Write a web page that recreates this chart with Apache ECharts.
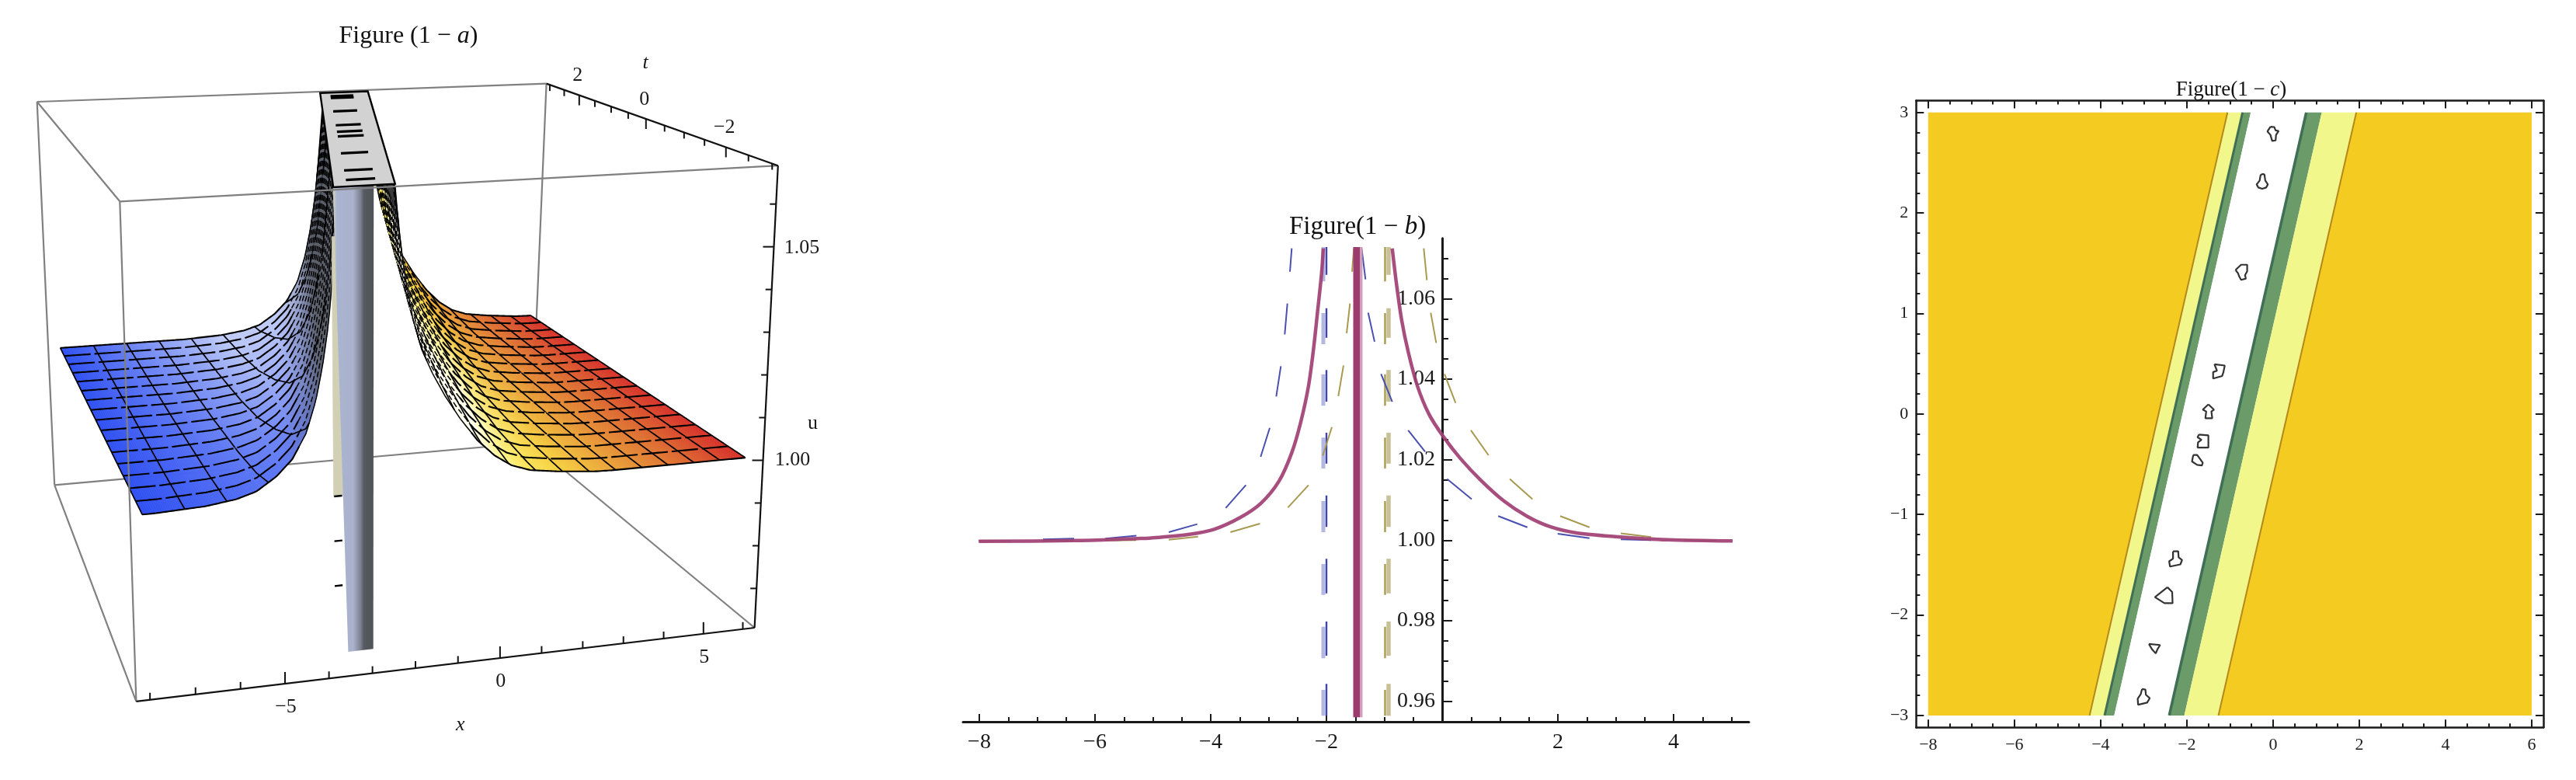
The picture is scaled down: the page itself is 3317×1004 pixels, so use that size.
<!DOCTYPE html>
<html><head><meta charset="utf-8"><style>html,body{margin:0;padding:0;background:#fff}#c{width:3317px;height:1004px}</style>
<script src="https://cdn.jsdelivr.net/npm/echarts@6/dist/echarts.min.js"></script></head>
<body><div id="c"></div>
<script>
// ---------- DATA: panel (1-b) ----------
const solidLeftX=[-8.01,-6.36,-5.28,-5.06,-4.389,-3.942,-3.494,-3.137,-2.823,-2.6,-2.443,-2.309,-2.219,-2.152,-2.085,-2.054];
const solidLeftY=[0.9997,0.9999,1.0004,1.0005,1.0014,1.0027,1.0056,1.0091,1.0146,1.0217,1.0294,1.0384,1.048,1.057,1.0661,1.0725];
const solidRightX=[-0.863,-0.788,-0.698,-0.587,-0.43,-0.228,0.017,0.309,0.667,1.07,1.472,1.875,2.322,2.993,3.9,5.02];
const solidRightY=[1.0725,1.0635,1.0545,1.0468,1.0384,1.0313,1.0258,1.0204,1.0149,1.0097,1.0059,1.0033,1.0018,1.0009,1.0001,0.9998];
const solidPoleX=-1.48;
const blueDashes=[[-2.6,1.0725,-2.631,1.0667],[-2.675,1.0588,-2.721,1.0511],[-2.788,1.0432,-2.868,1.0357],[-2.98,1.0279,-3.137,1.0207],[-3.392,1.0137,-3.741,1.008],[-4.232,1.004,-4.725,1.002],[-5.284,1.0011,-5.821,1.0004],[-6.362,1.0004,-6.899,1.0002],
 [-1.392,1.0725,-1.325,1.0648],[-1.279,1.0565,-1.168,1.0493],[-1.056,1.0413,-0.863,1.0344],[-0.587,1.0273,-0.295,1.022],[0.085,1.0152,0.51,1.0102],[0.97,1.006,1.472,1.0032],[1.996,1.0016,2.546,1.0005],[3.087,1.0002,3.611,1]];
const tanDashes=[[-1.526,1.0725,-1.557,1.0667],[-1.593,1.0588,-1.651,1.0514],[-1.705,1.0434,-1.795,1.0358],[-1.906,1.0281,-2.063,1.021],[-2.309,1.0137,-2.667,1.0081],[-3.15,1.0041,-3.66,1.002],[-4.219,1.0009,-4.725,1.0001],[-5.289,1,-5.826,0.9999],[-6.362,0.9998,-6.899,0.9998],[-7.454,0.9998,-8.013,0.9998],
 [-0.318,1.0725,-0.264,1.0646],[-0.197,1.0565,-0.103,1.049],[0.04,1.0413,0.232,1.0341],[0.497,1.0273,0.801,1.0211],[1.168,1.0152,1.561,1.0102],[2.04,1.006,2.546,1.0032],[3.087,1.0017,3.611,1.0008],[4.174,1.0001,4.738,0.9999]];
const poleDashesA=[[1.0728,1.0659],[1.0576,1.0503],[1.0423,1.0344],[1.0267,1.019],[1.0111,1.0033],[0.9954,0.9868],[0.9798,0.9713],[0.9643,0.9564]];
const poleDashesB=[[1.0728,1.0643],[1.0564,1.0487],[1.0412,1.0334],[1.0255,1.0178],[1.0097,1.002],[0.9941,0.9864],[0.9785,0.9707],[0.9628,0.9564]];
const bluePoleX=-2.0, bluePaleX=-2.054, tanPoleX=-0.987, tanPaleX=-0.926;
const bXTicks=[-8,-6,-4,-2,2,4];
const bXMinor=[-7.5,-7,-6.5,-5.5,-5,-4.5,-3.5,-3,-2.5,-1.5,-1,-0.5,0,0.5,1,1.5,2.5,3,3.5,4.5,5];
const bYTicks=[0.96,0.98,1,1.02,1.04,1.06];
const bYMinor=[0.965,0.97,0.975,0.985,0.99,0.995,1.005,1.01,1.015,1.025,1.03,1.035,1.045,1.05,1.055,1.065,1.07];

// ---------- DATA: panel (1-c) ----------
const bandEdgesTop=[-8,-1.056,-0.707,-0.517,0.771,1.13,1.932,6];
const bandEdgesBottom=[-8,-4.256,-3.907,-3.685,-2.408,-2.059,-1.267,6];
const bandColors=['#f4cb20','#f2f78c','#6b9b68','#ffffff','#6b9b68','#f2f78c','#f4cb20'];
const blobCentres=[[0,2.79],[-0.25,2.31],[-0.74,1.42],[-1.27,0.43],[-1.5,0.03],[-1.63,-0.27],[-1.76,-0.46],[-2.26,-1.44],[-2.52,-1.81],[-2.75,-2.32],[-3.01,-2.82]];
const blobOutlines=[
 [[-.06,.068],[.03,.065],[.06,.031],[.13,.026],[.07,-.013],[.06,-.068],[-.02,-.073],[-.06,-.013],[-.13,.021]],
 [[0,.078],[.05,.073],[.07,.013],[.13,-.026],[.09,-.057],[0,-.07],[-.09,-.057],[-.13,-.026],[-.06,.013],[-.04,.065]],
 [[-.13,.013],[0,.065],[.14,.065],[.14,0],[.09,-.039],[.11,-.073],[0,-.086],[-.05,-.047],[-.07,-.021]],
 [[-.09,.065],[.15,.052],[.12,-.013],[.09,-.052],[-.12,-.078],[-.12,-.013],[-.03,0]],
 [[0,.065],[.13,.013],[.07,-.005],[.09,-.073],[-.07,-.073],[-.05,-.005],[-.13,.013]],
 [[-.09,.065],[.13,.057],[.13,-.065],[-.12,-.065],[-.11,-.013],[-.03,.013],[-.12,.039]],
 [[-.09,.052],[0,.052],[.13,-.026],[.11,-.052],[0,-.047],[-.12,-.013]],
 [[-.06,.073],[.06,.073],[.07,.013],[.15,-.013],[.11,-.057],[-.13,-.078],[-.15,-.026],[-.06,0]],
 [[.07,.086],[.18,.039],[.19,-.073],[0,-.073],[-.22,-.013]],
 [[-.13,.031],[.13,.021],[.07,-.021],[.03,-.062],[-.05,-.026]],
 [[-.03,.083],[.05,.078],[.06,.026],[.15,-.008],[.09,-.052],[-.12,-.073],[-.13,-.013],[-.06,.031]]];
const cXTicks=[-8,-6,-4,-2,0,2,4,6];
const cXMinor=[-7.5,-7,-6.5,-5.5,-5,-4.5,-3.5,-3,-2.5,-1.5,-1,-0.5,0.5,1,1.5,2.5,3,3.5,4.5,5,5.5];
const cYTicks=[-3,-2,-1,0,1,2,3];
const cYMinor=[-2.8,-2.6,-2.4,-2.2,-1.8,-1.6,-1.4,-1.2,-0.8,-0.6,-0.4,-0.2,0.2,0.4,0.6,0.8,1.2,1.4,1.6,1.8,2.2,2.4,2.6,2.8];

// ---------- DATA: panel (1-a) ----------
const meshRowsT=[3,2.625,2.25,1.875,1.5,1.125,0.75,0.375,0,-0.375,-0.75,-1.125,-1.5,-1.875,-2.25,-2.625,-3];
const meshColsLeft=[-8,-7.08,-6.16,-5.24,-4.32,-3.4,-2.48,-1.56,-0.64];
const meshColsRight=[6,5.36,4.72,4.08,3.44,2.8,2.16,1.52,0.88,0.24,-0.4,-1.04,-1.68,-2.32];
const ridgeT=[-3,3], ridgeX=[-3.05,0.13];
const plateauMarksT=[2.7,2.55,1.5,0.5,0.06,-0.24,-1.26,-2.2,-2.68];
const pillarTopX=[-3.76,-2.87], pillarBottomX=[-3.48,-2.9], pillarBottomU=0.965;
const wallMarksU=[1,0.99,0.98];
const aXTicks=[-8,-7,-6,-5,-4,-3,-2,-1,0,1,2,3,4,5,6], aXMajor=[-5,0,5];
const aTTicks=[3,2.5,2,1.5,1,0.5,0,-0.5,-1,-1.5,-2,-2.5,-3], aTMajor=[2,0,-2];
const aUTicks=[0.97,0.98,0.99,1,1.01,1.02,1.03,1.04,1.05,1.06], aUMajor=[1,1.05];

// ---------- layout ----------
const SERIF='"Liberation Serif","Times New Roman",serif';
const INK='#1a1a1a';
const minus=v=>String(v).replace('-','\u2212');
const box={xMin:-8.3,xMax:6.3,tMin:-3.12,tMax:3.12,uMin:0.9608,uMax:1.069};
const corners={A:[47.7,131],B:[703.6,107.6],C:[1001.8,213.2],D:[154.3,259.3],G:[70.2,624.3],I:[684,570],F:[971.6,808],E:[175.4,902.8]};
const rx=1.085,rt=0.754;

function project(x,t,u){
  const X=(x-box.xMin)/(box.xMax-box.xMin),T=(box.tMax-t)/(box.tMax-box.tMin),U=(u-box.uMin)/(box.uMax-box.uMin);
  const list=[[corners.G,0,0,0],[corners.I,1,0,0],[corners.E,0,1,0],[corners.F,1,1,0],[corners.A,0,0,1],[corners.B,1,0,1],[corners.D,0,1,1],[corners.C,1,1,1]];
  let sx=0,sy=0,sw=0;
  for(const [p,a,b,c] of list){
    const k=(a?X:1-X)*(b?T:1-T)*(c?U:1-U)*(a?rx:1)*(b?rt:1);
    sx+=k*p[0];sy+=k*p[1];sw+=k;
  }
  return [sx/sw,sy/sw];
}
function lookup(xs,ys,q){
  const asc=xs[0]<xs[xs.length-1];
  const n=xs.length;
  const lo=asc?0:n-1,hi=asc?n-1:0;
  if(q<=xs[lo])return ys[lo]; if(q>=xs[hi])return ys[hi];
  for(let i=0;i<n-1;i++){
    const a=xs[i],b=xs[i+1];
    if((q>=a&&q<=b)||(q>=b&&q<=a))return ys[i]+(ys[i+1]-ys[i])*(q-a)/(b-a);
  }
  return ys[0];
}
const ridgeAt=t=>lookup(ridgeT,ridgeX,t);
function surfaceU(x,t){
  const xi=x-ridgeAt(t),q=solidPoleX+xi;
  const u=xi<0?lookup(solidLeftX,solidLeftY,q):lookup(solidRightX,solidRightY,q);
  return Math.min(Math.max(u,1),box.uMax);
}
const hex=c=>[1,3,5].map(i=>parseInt(c.substr(i,2),16));
const mix=(a,b,k)=>{const A=hex(a),B=hex(b);return '#'+A.map((v,i)=>Math.round(v+(B[i]-v)*k).toString(16).padStart(2,'0')).join('');};
const clamp=v=>Math.max(0,Math.min(1,v));
function leftColor(x,t,u){
  const L=clamp((x+8)/4.5)*(0.45+0.55*(t+3)/6);
  return mix(mix('#2f50f2','#c0ccf6',L),'#5a5e68',clamp((u-1.007)/0.022));
}
const rampX=[-3,0,1.5,3,4.5,6],rampC=['#fff04e','#fff04e','#f6d040','#e89b36','#dd6a30','#d62e28'];
function rightColor(x,t,u){
  let c=rampC[rampC.length-1];
  for(let i=0;i<rampX.length-1;i++) if(x<=rampX[i+1]){c=mix(rampC[i],rampC[i+1],clamp((x-rampX[i])/(rampX[i+1]-rampX[i])));break;}
  c=mix(c,'#fffef0',clamp((u-1.001)/0.009)*clamp((1.5-t)/3.5));
  return mix(c,'#3c3c3c',clamp((u-1.05)/0.008));
}

function renderSurface(params,api){
  const ch=[];
  const P=(x,t,u)=>api.coord(project(x,t,u));
  const poly=(pts,fill)=>ch.push({type:'polygon',shape:{points:pts},style:{fill,stroke:fill,lineWidth:0.7}});
  const line=(pts,w,c,dash)=>{ if(pts.length>1) ch.push({type:'polyline',shape:{points:pts},style:{stroke:c,lineWidth:w,fill:null,lineDash:dash||null}}); };
  const step=0.05, cap=0.5, steepU=1.012;
  function sheet(side,colorFn,cols){
    const n=Math.round(14/step);
    const xOf=j=>side<0?-8+j*step:6-j*step;
    const ok=(x,t)=>side*(x-ridgeAt(t))>cap;
    const rowLine=(t,solid)=>{
      const flat=[],steep=[];
      for(let j=0;j<=n;j++){const x=xOf(j);if(!ok(x,t))continue;const u=surfaceU(x,t),q=P(x,t,u);
        if(u<steepU)flat.push(q);else{ if(!steep.length&&flat.length)steep.push(flat[flat.length-1]); steep.push(q);} }
      line(flat,2.1,'#000',solid?null:[34,5]);
      line(steep,1.5,'#000',solid?null:[7,4]);
    };
    for(let i=0;i<meshRowsT.length-1;i++){
      const t0=meshRowsT[i],t1=meshRowsT[i+1];
      for(let j=0;j<n;j++){
        const a=xOf(j),b=xOf(j+1);
        if(!ok(a,t0)||!ok(b,t0)||!ok(a,t1)||!ok(b,t1))continue;
        const ua0=surfaceU(a,t0),ub0=surfaceU(b,t0),ua1=surfaceU(a,t1),ub1=surfaceU(b,t1);
        poly([P(a,t0,ua0),P(b,t0,ub0),P(b,t1,ub1),P(a,t1,ua1)],colorFn((a+b)/2,(t0+t1)/2,(ua0+ub0+ua1+ub1)/4));
      }
      rowLine(t0,i===0);
      for(const x of cols){
        const p=[];
        for(let s=0;s<=8;s++){const t=t0+(t1-t0)*s/8;if(ok(x,t))p.push(P(x,t,surfaceU(x,t)));}
        line(p,1.7,'#000');
      }
    }
    rowLine(meshRowsT[meshRowsT.length-1],true);
  }
  sheet(1,rightColor,meshColsRight);
  sheet(-1,leftColor,meshColsLeft);
  // pale far side of the wall
  const t=-3;
  poly([P(-3.79,t,1.058),P(-3.4,t,1.058),P(-3.4,t,1.0),P(-3.79,t,1.0)],'#d2d0b4');
  for(const u of wallMarksU) line([P(-3.78,t,u),P(-3.6,t,u)],2.4,'#000');
  // front end of the wall
  ch.push({type:'polygon',shape:{points:[P(pillarTopX[0],t,box.uMax),P(pillarTopX[1],t,box.uMax),P(pillarBottomX[1],t,pillarBottomU),P(pillarBottomX[0],t,pillarBottomU)]},
    style:{fill:{type:'linear',x:0,y:0,x2:1,y2:0,colorStops:[{offset:0,color:'#d7d6bf'},{offset:0.1,color:'#a9b4d0'},{offset:0.5,color:'#aab2cc'},{offset:0.68,color:'#7c8090'},{offset:0.76,color:'#56595f'},{offset:1,color:'#505357'}]}}});
  // clipped top of the ridge
  const rAt=T=>ridgeAt(T);
  const top=[P(rAt(3)-0.68,3,box.uMax),P(rAt(3)+0.7,3,box.uMax),P(rAt(-3)+0.65,-3,box.uMax),P(rAt(-3)-0.7,-3,box.uMax)];
  ch.push({type:'polygon',shape:{points:top},style:{fill:'#d2d2d2',stroke:'#000',lineWidth:2.4}});
  for(const m of plateauMarksT) line([P(rAt(m)-0.4,m,box.uMax),P(rAt(m)+0.25,m,box.uMax)],3.2,'#000');
  return {type:'group',children:ch};
}
function cornerLine(api,a,b,c,w){return {type:'line',shape:{x1:api.coord(a)[0],y1:api.coord(a)[1],x2:api.coord(b)[0],y2:api.coord(b)[1]},style:{stroke:c,lineWidth:w}};}
function renderBoxBack(params,api){
  const c=corners;const ch=[[c.B,c.I],[c.I,c.G],[c.I,c.F],[c.A,c.B]].map(e=>cornerLine(api,e[0],e[1],'#808080',2.2));
  return {type:'group',children:ch};
}
function renderBoxFront(params,api){
  const c=corners,ch=[];
  for(const e of [[c.A,c.D],[c.D,c.C],[c.D,c.E],[c.A,c.G],[c.G,c.E]]) ch.push(cornerLine(api,e[0],e[1],'#808080',2.2));
  for(const e of [[c.B,c.C],[c.C,c.F],[c.E,c.F]]) ch.push(cornerLine(api,e[0],e[1],'#111',2.2));
  const text=(base,dx,dy,s,italic,size)=>{const q=api.coord([base[0]+dx,base[1]+dy]);ch.push({type:'text',style:{x:q[0],y:q[1],text:s,fill:INK,font:(italic?'italic ':'')+(size||26)+'px '+SERIF,align:'center',verticalAlign:'middle',textAlign:'center',textVerticalAlign:'middle'}});};
  for(const x of aXTicks){const b=project(x,box.tMin,box.uMin),major=aXMajor.includes(x);
    ch.push(cornerLine(api,b,[b[0],b[1]-(major?15:9)],'#111',2));
    if(major) text(b,1,30,minus(x));}
  for(const t of aTTicks){const b=project(box.xMax,t,box.uMax),major=aTMajor.includes(t);
    ch.push(cornerLine(api,b,[b[0],b[1]+(major?13:8)],'#111',2));
    if(major) text(b,-2,-25,minus(t));}
  for(const u of aUTicks){const b=project(box.xMax,box.tMin,u),major=aUMajor.includes(u);
    ch.push(cornerLine(api,b,[b[0]-(major?14:8),b[1]],'#111',2));
    if(major) text(b,u===1?38:36,u===1?0:2,u.toFixed(2));}
  const lab=(b,s,it)=>text(b,0,0,s,it,26);
  lab([592.8,933.6],'x',true);lab([831,81],'t',true);lab([1046.6,545.5],'u',false);
  return {type:'group',children:ch};
}

// ---------- axes ----------
const axisBase=(o)=>({type:'value',gridIndex:o.grid,position:o.pos,min:o.min,max:o.max,silent:true,offset:o.offset||0,
  splitLine:{show:false},
  axisLine:{show:!!o.line,onZero:false,lineStyle:{color:INK,width:o.lw||3}},
  axisTick:{show:true,inside:true,length:o.len,customValues:o.ticks,lineStyle:{color:INK,width:2}},
  axisLabel:o.labels?{show:true,customValues:o.ticks,margin:o.margin,color:INK,fontFamily:SERIF,fontSize:o.fs,formatter:v=>o.fmt?o.fmt(v):minus(v)}:{show:false}});

const bX={min:-8.282,max:5.302},bY={min:0.9549,max:1.075};
const cX={min:-8.28,max:6.27},cY={min:-3.118,max:3.118};
const bZeroOffset=-617;

const xAxes=[
 {type:'value',gridIndex:0,min:0,max:1100,show:false},
 axisBase({grid:1,pos:'bottom',...bX,line:true,len:10,ticks:bXTicks,labels:true,margin:13,fs:28}),
 axisBase({grid:1,pos:'bottom',...bX,line:false,len:6,ticks:bXMinor}),
 axisBase({grid:2,pos:'bottom',...cX,line:true,lw:2.5,len:10,ticks:cXTicks,labels:true,margin:12,fs:22}),
 axisBase({grid:2,pos:'bottom',...cX,line:false,len:5,ticks:cXMinor}),
 axisBase({grid:2,pos:'top',...cX,line:true,lw:2.5,len:10,ticks:cXTicks}),
 axisBase({grid:2,pos:'top',...cX,line:false,len:5,ticks:cXMinor}),
];
const yAxes=[
 {type:'value',gridIndex:0,min:0,max:1004,inverse:true,show:false},
 axisBase({grid:1,pos:'left',...bY,offset:bZeroOffset,line:true,len:13,ticks:bYTicks,labels:true,margin:9,fs:28,fmt:v=>v.toFixed(2)}),
 axisBase({grid:1,pos:'left',...bY,offset:bZeroOffset,line:false,len:8,ticks:bYMinor}),
 axisBase({grid:2,pos:'left',...cY,line:true,lw:2.5,len:10,ticks:cYTicks,labels:true,margin:10,fs:22}),
 axisBase({grid:2,pos:'left',...cY,line:false,len:5,ticks:cYMinor}),
 axisBase({grid:2,pos:'right',...cY,line:true,lw:2.5,len:10,ticks:cYTicks}),
 axisBase({grid:2,pos:'right',...cY,line:false,len:5,ticks:cYMinor}),
];

// ---------- series helpers ----------
const zip=(a,b)=>a.map((v,i)=>[v,b[i]]);
const segs=list=>{const d=[];for(const s of list){d.push([s[0],s[1]],[s[2],s[3]],[s[2],null]);}return d;};
const pole=(x,list)=>{const d=[];for(const s of list){d.push([x,s[0]],[x,s[1]],[x,null]);}return d;};
const bLine=(data,color,width,opacity,smooth)=>({type:'line',xAxisIndex:1,yAxisIndex:1,data,symbol:'none',showSymbol:false,silent:true,connectNulls:false,animation:false,z:3,smooth:smooth||false,
  lineStyle:{color,width,opacity:opacity==null?1:opacity,cap:'butt'}});
const layer=renderItem=>({type:'custom',coordinateSystem:'cartesian2d',xAxisIndex:0,yAxisIndex:0,data:[[0,0]],silent:true,animation:false,renderItem,z:3});

const blobLine=[];
blobCentres.forEach((c,i)=>{const o=blobOutlines[i];for(const p of o)blobLine.push([c[0]+p[0],c[1]+p[1]]);blobLine.push([c[0]+o[0][0],c[1]+o[0][1]]);blobLine.push([c[0],null]);});
const edgeLine=(i)=>[[bandEdgesBottom[i],-3],[bandEdgesTop[i],3]];

const series=[
 layer(renderBoxBack),layer(renderSurface),layer(renderBoxFront),
 bLine(pole(bluePaleX,poleDashesB),'#b4b8e0',5),
 bLine(pole(tanPaleX,poleDashesA),'#c8c096',5.5),
 bLine(pole(bluePoleX,poleDashesA),'#3f45ad',2.4),
 bLine(pole(tanPoleX,poleDashesB),'#a89a50',2.4),
 bLine(segs(blueDashes),'#4a50b0',2),
 bLine(segs(tanDashes),'#a89a50',2),
 bLine([[solidPoleX+0.08,0.956],[solidPoleX+0.08,1.0728]],'#cf9fba',3.5),
 bLine([[solidPoleX,0.956],[solidPoleX,1.0728]],'#9c3d70',8.5),
 bLine(zip(solidLeftX,solidLeftY),'#a03f74',4.5,0.92,0.3),
 bLine(zip(solidRightX,solidRightY),'#a03f74',4.5,0.92,0.3),
 {type:'custom',coordinateSystem:'cartesian2d',xAxisIndex:3,yAxisIndex:3,silent:true,animation:false,z:2,
  data:bandColors.map((c,i)=>[i]),encode:{x:0},
  renderItem(params,api){
    const i=api.value(0);
    return {type:'polygon',shape:{points:[api.coord([bandEdgesBottom[i],-3]),api.coord([bandEdgesBottom[i+1],-3]),api.coord([bandEdgesTop[i+1],3]),api.coord([bandEdgesTop[i],3])]},
      style:{fill:bandColors[i]}};
  }},
 ...[[1,'#b5881c',2],[6,'#b5881c',2],[2,'#3f6f55',3],[4,'#3f6f55',3.5]].map(e=>({type:'line',xAxisIndex:3,yAxisIndex:3,data:edgeLine(e[0]),symbol:'none',silent:true,animation:false,z:3,lineStyle:{color:e[1],width:e[2]}})),
 {type:'line',xAxisIndex:3,yAxisIndex:3,data:blobLine,symbol:'none',silent:true,animation:false,connectNulls:false,z:4,lineStyle:{color:'#333',width:2.2}},
];
const titleRich=(a,b,c,size)=>({text:'{r|'+a+'}{i|'+b+'}{r|'+c+'}',rich:{r:{fontFamily:SERIF,fontSize:size,fontWeight:'normal',color:'#111'},i:{fontFamily:SERIF,fontStyle:'italic',fontWeight:'normal',fontSize:size,color:'#111'}}});
const mkTitle=(x,y,a,b,c,size)=>{const t=titleRich(a,b,c,size);return {left:x,top:y,textAlign:'center',textVerticalAlign:'middle',text:t.text,textStyle:{fontWeight:'normal',rich:t.rich}};};

const chart=echarts.init(document.getElementById('c'),null,{renderer:'canvas',width:3317,height:1004});
chart.setOption({animation:false,backgroundColor:'#fff',
 title:[mkTitle(521,42,'Figure (1 \u2212 ','a',')',32),mkTitle(1743,287,'Figure(1 \u2212 ','b',')',33),mkTitle(2868,111,'Figure(1 \u2212 ','c',')',27)],
 grid:[{left:0,top:0,width:1100,height:1004,containLabel:false},
       {left:1240,top:306.7,width:1012,height:622.3,containLabel:false},
       {left:2467.3,top:129.5,width:807.6,height:806.7,containLabel:false}],
 xAxis:xAxes,yAxis:yAxes,series});
</script></body></html>
